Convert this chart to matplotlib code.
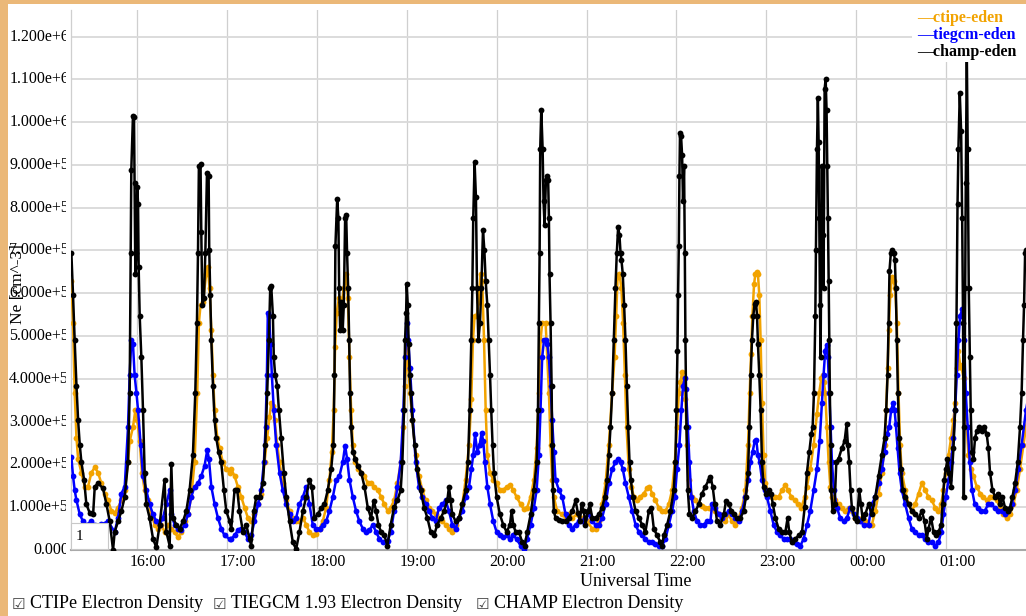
import numpy as np
import matplotlib
matplotlib.use("Agg")
import matplotlib.pyplot as plt
from matplotlib.patches import Rectangle
from matplotlib.transforms import (Bbox, TransformedBbox,
                                   blended_transform_factory, ScaledTranslation)

# electron density along the CHAMP track, (minutes after 15:00 UT, Ne / 1e5 cm^-3)
champ = [
    (16.2, 6.94), (17.3, 5.96), (18.4, 4.90), (19.6, 3.84), (20.7, 3.03), (21.8, 2.46), (22.9, 2.05),
    (24.7, 1.64), (26.2, 1.07), (28.4, 0.87), (30.7, 0.83), (31.8, 1.48), (34.0, 1.56), (37.3, 1.44),
    (39.6, 1.07), (41.8, 0.67), (44.0, 0.00), (45.1, 0.42), (47.3, 0.67), (49.6, 0.91), (51.8, 1.24),
    (54.0, 2.05), (55.1, 3.68), (55.8, 6.94), (56.2, 8.89), (57.3, 10.15), (58.0, 10.11), (58.4, 8.57),
    (58.9, 6.45), (59.6, 6.94), (60.2, 8.49), (60.7, 8.08), (61.1, 6.61), (61.8, 5.47), (62.9, 4.50),
    (64.0, 3.27), (65.1, 1.81), (66.2, 1.07), (68.4, 0.75), (70.7, 0.26), (72.9, 0.06), (75.1, 0.59),
    (78.4, 1.64), (79.6, 0.42), (81.8, 0.10), (82.9, 2.01), (84.0, 0.75), (86.2, 0.59), (88.4, 0.50),
    (90.7, 0.67), (92.9, 0.91), (95.1, 1.40), (97.3, 2.21), (98.9, 3.68), (100.0, 5.31), (100.7, 6.94),
    (101.3, 8.97), (102.4, 9.01), (102.9, 7.43), (103.6, 5.72), (104.7, 5.88), (105.6, 6.94), (106.7, 8.81),
    (107.8, 8.73), (108.2, 7.02), (108.9, 5.96), (109.6, 4.90), (110.7, 3.84), (111.8, 3.03), (112.9, 2.62),
    (114.4, 2.30), (116.2, 2.05), (118.0, 1.40), (119.6, 0.91), (121.8, 0.67),
    (122.9, 0.50), (125.1, 1.40), (126.9, 1.40), (128.4, 0.91), (130.7, 0.42), (132.9, 0.59), (135.1, 0.26),
    (136.2, 0.10), (138.0, 0.91), (139.6, 1.24), (141.8, 1.24), (144.0, 1.56), (145.6, 2.46), (146.9, 3.68),
    (148.0, 4.90), (148.9, 6.12), (149.6, 6.16), (150.7, 5.47), (151.3, 4.50), (152.2, 4.09), (153.6, 3.84),
    (154.7, 3.27), (156.2, 2.62), (158.0, 1.81), (159.6, 1.24), (161.8, 0.67), (164.0, 0.18), (166.2, 0.02),
    (168.4, 0.42), (170.7, 0.91), (172.9, 1.24), (175.1, 1.64), (176.7, 1.48), (178.4, 0.75), (180.7, 0.83),
    (182.9, 0.99), (185.1, 1.07), (187.3, 1.40), (189.6, 1.89), (191.1, 2.46), (191.8, 4.09), (192.4, 7.10),
    (193.6, 8.20), (194.4, 7.75), (194.9, 6.12), (195.6, 5.15), (196.4, 5.80), (197.3, 5.15), (198.0, 5.72),
    (198.9, 7.75), (199.6, 7.83), (200.2, 6.94), (200.9, 6.12), (201.6, 4.90), (202.2, 3.68), (202.9, 2.87),
    (204.0, 2.30), (205.6, 2.13), (207.3, 1.97), (209.6, 1.81), (211.8, 1.48), (214.0, 0.99), (216.2, 0.75),
    (218.0, 1.15), (219.6, 0.91), (221.1, 0.59), (222.9, 0.42), (225.1, 0.34),
    (227.1, 0.10), (229.3, 0.59), (231.6, 1.00), (233.8, 1.16), (236.0, 1.40), (237.1, 2.05), (238.2, 3.27),
    (238.9, 4.90), (239.6, 5.55), (240.0, 6.21), (240.7, 5.72), (241.3, 4.82), (242.0, 4.09), (242.7, 3.68),
    (243.8, 3.03), (245.3, 2.46), (247.1, 1.89), (249.3, 1.40), (251.6, 0.99), (253.8, 0.75), (256.0, 0.42),
    (258.2, 0.34), (260.4, 0.59), (262.7, 0.75), (264.9, 0.91), (267.1, 1.16), (268.2, 1.48), (269.3, 1.16),
    (270.4, 0.83), (272.7, 0.67), (274.9, 0.75), (277.1, 1.07), (279.3, 1.40), (280.9, 2.05), (282.0, 3.27),
    (283.1, 4.90), (283.8, 6.12), (284.4, 7.75), (285.3, 9.06), (286.2, 8.24), (286.9, 6.12), (287.8, 4.90),
    (288.9, 5.31), (289.8, 6.12), (290.9, 7.47), (291.8, 7.02), (292.7, 6.29), (293.8, 5.72), (294.7, 4.90),
    (295.6, 4.09), (296.4, 3.27), (297.3, 2.46), (298.2, 1.81), (300.0, 1.24), (302.2, 0.83), (304.4, 0.59),
    (306.7, 0.42), (308.9, 0.59), (310.0, 0.91), (311.1, 0.59), (312.7, 0.42), (314.9, 0.42), (317.1, 0.18),
    (318.7, 0.10), (320.4, 0.42), (322.7, 0.83), (324.9, 1.40), (326.7, 2.05), (327.6, 3.27), (328.2, 5.31),
    (328.7, 6.94), (329.1, 9.38), (329.8, 10.28), (330.7, 9.38), (331.3, 8.16), (332.0, 7.59), (332.9, 8.65),
    (333.8, 8.73), (334.4, 8.65), (334.9, 7.75), (335.3, 6.45), (336.0, 5.31), (336.7, 3.84), (337.1, 2.46),
    (337.6, 1.40), (338.2, 0.91), (339.3, 0.75),
    (341.6, 0.71), (343.8, 0.67), (346.0, 0.67), (348.2, 0.75), (350.4, 0.91), (352.7, 1.16), (354.2, 0.87),
    (355.6, 0.67), (356.7, 1.07), (358.2, 0.91), (359.3, 0.59), (360.9, 0.91), (362.2, 1.07), (363.8, 0.75),
    (366.0, 0.75), (368.2, 0.83), (370.4, 0.99), (372.2, 1.24), (373.8, 1.64), (374.9, 2.21), (376.0, 2.87),
    (377.1, 3.68), (378.2, 4.90), (379.3, 6.12), (380.2, 6.94), (381.1, 7.55), (382.0, 7.35), (382.7, 6.94),
    (383.3, 6.78), (384.2, 6.45), (385.1, 5.72), (386.0, 4.90), (386.9, 3.84), (387.8, 2.87), (388.7, 2.05),
    (389.6, 1.64), (390.9, 1.24), (392.7, 0.91), (394.9, 0.75), (397.1, 0.59), (399.3, 0.42), (401.6, 0.91),
    (403.3, 0.99), (404.9, 0.50), (407.1, 0.34), (409.3, 0.18), (410.4, 0.10), (411.6, 0.34), (413.8, 0.59),
    (416.0, 0.91), (418.2, 1.40), (419.3, 2.05), (420.0, 3.27), (420.7, 4.66), (421.1, 5.96), (421.6, 7.10),
    (422.0, 8.73), (422.4, 9.75), (423.1, 9.67), (423.8, 9.22), (424.4, 8.16), (425.1, 8.97), (425.6, 6.94),
    (426.0, 4.90), (426.7, 2.87), (427.6, 1.40), (428.7, 0.83), (430.4, 0.75), (432.7, 0.91), (434.9, 1.07),
    (437.1, 1.32), (439.3, 1.48), (441.6, 1.64),
    (442.7, 1.71), (444.2, 1.48), (445.6, 1.07), (447.1, 0.67), (449.3, 0.59), (451.6, 0.83), (453.1, 1.15),
    (454.9, 1.07), (456.7, 0.91), (458.2, 0.83), (460.4, 0.75), (462.7, 0.75), (464.9, 0.91), (466.4, 1.24),
    (467.8, 1.81), (468.7, 2.87), (469.6, 4.09), (470.4, 4.90), (471.3, 5.47), (472.2, 5.76), (473.1, 5.80),
    (473.8, 5.47), (474.4, 4.82), (475.3, 4.09), (476.2, 3.27), (477.1, 2.05), (478.2, 1.48), (479.8, 1.32),
    (481.6, 1.40), (483.1, 1.32), (484.4, 1.07), (486.0, 0.75), (488.2, 0.50), (490.4, 0.42), (492.7, 0.42),
    (494.2, 0.75), (495.3, 0.42), (497.1, 0.18), (499.3, 0.26), (501.6, 0.34), (503.8, 0.42), (505.6, 1.00),
    (507.1, 1.81), (508.7, 2.30), (510.0, 2.70), (510.9, 2.87), (511.8, 3.68), (512.7, 5.47), (513.1, 7.02),
    (513.8, 9.38), (514.4, 10.56), (514.9, 9.54), (515.3, 7.75), (515.8, 5.72), (516.2, 4.50), (516.7, 6.94),
    (517.1, 8.97), (517.6, 7.35), (518.2, 6.12), (518.9, 10.77), (519.6, 11.01), (520.2, 10.28), (520.7, 8.97),
    (521.1, 7.75), (521.6, 6.29), (522.0, 4.90), (522.4, 3.68), (522.9, 2.46), (523.3, 1.40), (524.2, 0.91),
    (525.6, 1.07), (526.7, 2.05), (528.2, 2.13), (530.4, 2.38), (532.2, 2.54), (533.6, 2.95), (534.4, 2.46),
    (535.3, 2.05), (536.2, 1.40), (537.1, 0.99), (538.9, 0.75), (540.4, 0.67), (542.0, 1.40), (543.1, 1.07),
    (544.2, 0.75), (546.0, 0.83),
    (548.2, 1.07), (550.4, 0.83), (552.7, 1.24), (554.9, 1.73), (557.1, 2.21), (558.9, 2.62), (560.0, 3.27),
    (560.9, 4.09), (561.6, 5.31), (562.2, 6.53), (563.1, 6.94), (564.2, 7.02), (565.1, 6.94), (565.8, 6.78),
    (566.4, 6.12), (567.1, 4.90), (567.8, 3.68), (568.7, 2.62), (569.8, 1.89), (571.1, 1.40), (572.7, 1.24),
    (574.9, 1.07), (577.1, 0.91), (579.3, 0.83), (581.6, 0.75), (583.8, 0.91), (585.6, 0.67), (587.1, 0.26),
    (588.2, 0.50), (590.0, 0.75), (591.6, 0.42), (593.1, 0.34), (594.9, 0.42), (596.7, 0.59), (597.6, 1.07),
    (598.7, 1.64), (599.8, 1.89), (600.9, 2.13), (602.0, 1.81), (603.3, 1.48), (604.9, 2.38), (606.0, 3.27),
    (606.9, 5.31), (607.6, 8.08), (608.2, 9.38), (609.1, 10.68), (610.0, 9.79), (610.7, 7.75), (611.3, 5.31),
    (611.8, 1.24), (612.2, 2.87), (612.7, 6.12), (613.1, 8.57), (613.8, 11.60), (614.4, 9.38), (615.1, 6.12),
    (615.8, 4.50), (616.4, 3.27), (617.1, 2.30), (618.2, 2.13), (619.3, 2.62), (620.4, 2.78), (622.0, 2.87),
    (623.8, 2.79), (625.6, 2.87), (627.1, 2.70), (628.2, 2.38), (629.3, 1.81), (630.9, 1.40), (632.7, 1.24),
    (634.4, 1.32), (636.0, 1.07), (637.6, 1.24), (639.3, 0.99), (641.1, 0.91), (642.7, 0.99), (644.2, 1.24),
    (646.0, 1.56), (647.8, 2.05), (649.3, 2.87), (650.4, 3.68), (651.3, 4.90), (652.0, 5.72), (652.7, 6.94),
    (653.3, 7.02), (655.0, 7.10),
]

# CTIPe model along the same track
ctipe = [
    (16.2, 6.29), (17.3, 5.31), (18.4, 3.68), (19.6, 2.62), (20.7, 2.13), (22.9, 1.81), (25.1, 1.48),
    (27.3, 1.48), (29.6, 1.81), (31.8, 1.93), (34.0, 1.81), (36.2, 1.56), (38.4, 1.32), (40.7, 1.16),
    (42.9, 0.91), (45.1, 0.87), (47.3, 0.99), (49.6, 1.16), (51.8, 1.40), (54.0, 2.05), (55.1, 2.54),
    (57.3, 2.87), (58.9, 3.27), (60.2, 3.03), (61.8, 2.54), (63.3, 1.81), (65.1, 1.40), (67.3, 1.16),
    (69.6, 0.83), (71.8, 0.59), (74.0, 0.50), (76.2, 0.59), (78.4, 0.42), (80.7, 0.59), (82.9, 0.50),
    (85.1, 0.42), (87.3, 0.30), (89.6, 0.42), (91.8, 0.67), (94.0, 0.83), (96.2, 1.24), (98.4, 2.05),
    (100.2, 3.68), (101.3, 5.31), (102.4, 5.72), (104.0, 5.80), (106.2, 6.45), (107.3, 6.61), (108.4, 6.12),
    (109.6, 5.15), (110.7, 4.09), (111.8, 3.27), (113.6, 2.62), (115.1, 2.38), (117.3, 2.05), (119.6, 1.89),
    (121.8, 1.81),
    (122.9, 1.89), (125.1, 1.73), (127.3, 1.48), (129.6, 1.24), (131.8, 0.99), (134.0, 0.75), (136.2, 0.67),
    (138.4, 0.83), (140.7, 1.07), (142.9, 1.32), (145.1, 2.05), (146.9, 2.62), (148.4, 3.11), (149.6, 3.44),
    (150.7, 3.36), (151.8, 3.03), (153.6, 2.46), (155.1, 2.05), (157.3, 1.56), (159.6, 1.16), (161.8, 0.91),
    (164.0, 0.75), (166.2, 0.67), (168.4, 0.67), (170.7, 0.75), (172.9, 0.59), (175.1, 0.42), (177.3, 0.34),
    (179.6, 0.38), (181.8, 0.50), (184.0, 0.67), (186.2, 0.99), (188.4, 1.64), (190.0, 2.30), (191.3, 3.27),
    (192.2, 4.74), (193.3, 5.55), (194.7, 5.88), (196.2, 5.64), (198.0, 6.12), (199.6, 6.45), (200.7, 5.88),
    (201.8, 4.50), (202.9, 3.27), (204.0, 2.46), (205.6, 2.05), (207.3, 1.89), (209.6, 1.81), (211.8, 1.73),
    (214.0, 1.56), (216.2, 1.56), (218.4, 1.48), (220.7, 1.40), (222.9, 1.24), (225.1, 1.07), (227.3, 0.91),
    (229.3, 0.99), (231.6, 1.16), (233.8, 1.56), (236.0, 2.05), (237.8, 2.87), (238.9, 3.84), (240.0, 4.74),
    (241.1, 4.25), (242.2, 3.68), (243.8, 3.03), (246.0, 2.21), (248.2, 1.73), (250.4, 1.40), (252.7, 1.16),
    (254.9, 0.99), (257.1, 0.91), (259.3, 0.83), (261.6, 0.75), (263.8, 0.67), (266.0, 0.59), (268.2, 0.50),
    (270.4, 0.42), (272.7, 0.59), (274.9, 0.75), (277.1, 1.07), (279.3, 1.64), (281.6, 2.46), (283.1, 3.52),
    (284.2, 4.90), (285.3, 5.47), (286.7, 5.47), (288.0, 5.80), (289.3, 6.45), (290.4, 6.29), (291.6, 4.90),
    (292.7, 3.27), (293.8, 2.21), (295.6, 1.81), (297.8, 1.64), (300.0, 1.56), (302.2, 1.40), (304.4, 1.40),
    (306.7, 1.48), (308.9, 1.52), (311.1, 1.40), (313.3, 1.24), (316.0, 1.07), (318.2, 0.95), (320.4, 0.99),
    (322.7, 1.24), (324.9, 1.64), (326.7, 2.38), (328.2, 3.68), (329.3, 4.90), (330.4, 5.31), (332.7, 5.31),
    (334.9, 3.68), (336.0, 2.46), (337.1, 1.64), (338.2, 1.24), (340.4, 0.91), (343.8, 0.83), (346.0, 0.75),
    (348.2, 0.83), (350.4, 0.75), (353.8, 0.83), (357.1, 0.75), (360.4, 0.67), (363.8, 0.50), (366.0, 0.50),
    (368.2, 0.67), (370.4, 1.07), (372.7, 1.56), (374.9, 2.46), (377.1, 3.68), (378.7, 4.50), (379.8, 5.47),
    (380.7, 6.37), (382.0, 6.45), (383.3, 6.12), (384.4, 5.31), (385.6, 4.09), (386.7, 2.87), (388.2, 1.89),
    (390.0, 1.48), (391.6, 1.24), (393.8, 1.16), (396.0, 1.24), (398.2, 1.32), (400.4, 1.44), (402.0, 1.48),
    (403.8, 1.32), (406.0, 1.16), (408.2, 0.99), (410.4, 0.91), (412.7, 0.91), (414.9, 1.07), (417.1, 1.40),
    (418.9, 2.05), (420.4, 2.87), (421.6, 3.68), (422.7, 3.93), (423.8, 4.17), (424.9, 4.01), (426.0, 3.52),
    (427.1, 2.46), (428.2, 1.64), (430.4, 1.24), (432.7, 1.16), (434.9, 1.07), (437.1, 1.03), (439.3, 0.99),
    (441.6, 0.99), (443.8, 0.99), (446.0, 0.91), (448.2, 0.83), (450.4, 0.75), (452.7, 0.67), (454.9, 0.83),
    (457.1, 0.67), (459.3, 0.59), (461.6, 0.75), (463.8, 0.99), (466.0, 1.40), (467.8, 2.46), (468.9, 3.68),
    (469.8, 4.58), (470.7, 5.47), (471.8, 6.21), (472.7, 6.45), (473.6, 6.49), (474.4, 6.45), (475.3, 5.96),
    (476.2, 4.90), (477.1, 3.44), (478.2, 2.21), (479.3, 1.56), (481.6, 1.32), (483.8, 1.24), (486.0, 1.24),
    (488.2, 1.24), (490.4, 1.40), (492.7, 1.52), (494.4, 1.40), (496.7, 1.24), (498.9, 1.16), (501.1, 1.07),
    (503.3, 0.99), (505.6, 1.24), (507.1, 1.48), (509.3, 1.89), (511.6, 2.46), (513.8, 3.19), (515.3, 3.68),
    (516.7, 4.01), (517.6, 4.09), (518.4, 3.93), (519.3, 3.68), (520.4, 2.87), (521.6, 2.05), (522.7, 1.48),
    (523.8, 1.24), (526.0, 1.16), (528.2, 1.07), (530.4, 0.99), (532.7, 0.91), (534.9, 0.99), (537.1, 0.91),
    (539.3, 0.75), (541.6, 0.71), (543.8, 0.75), (546.0, 0.67), (548.2, 0.59), (550.4, 0.59), (552.7, 0.91),
    (554.9, 1.32), (557.1, 1.81), (558.9, 2.46), (560.0, 3.27), (560.9, 4.25), (561.8, 5.15), (562.7, 5.96),
    (563.8, 6.37), (564.9, 6.29), (566.0, 6.12), (567.1, 5.31), (568.2, 3.68), (569.3, 2.46), (570.4, 1.81),
    (572.7, 1.40), (574.9, 1.07), (577.1, 0.91), (579.3, 1.07), (581.6, 1.32), (583.8, 1.56), (586.0, 1.40),
    (588.2, 1.24), (590.4, 1.16), (592.7, 0.99), (594.9, 0.91), (596.7, 1.07), (598.2, 1.40), (599.8, 1.81),
    (601.6, 2.21), (603.3, 2.62), (604.9, 3.03), (606.0, 3.44), (607.1, 4.25), (608.2, 4.66), (609.3, 4.33),
    (610.4, 4.25), (611.6, 4.01), (612.7, 3.68), (613.8, 2.87), (614.9, 2.21), (616.7, 1.89), (618.2, 1.73),
    (620.4, 1.48), (622.7, 1.32), (624.9, 1.24), (627.1, 1.16), (629.3, 1.24), (631.6, 1.24), (633.8, 1.16),
    (636.0, 0.99), (638.2, 0.83), (640.4, 0.75), (642.7, 0.83), (644.9, 1.07), (647.1, 1.40), (649.3, 1.89),
    (651.6, 2.46), (653.3, 2.87), (655.0, 3.20),
]

# TIEGCM 1.93 model along the same track
tiegcm = [
    (16.2, 2.17), (17.3, 1.73), (18.4, 1.40), (19.6, 1.16), (21.8, 0.83), (24.0, 0.67), (26.2, 0.59),
    (29.6, 0.67), (31.8, 0.59), (36.2, 0.60), (40.7, 0.67), (45.1, 0.42), (47.3, 0.75), (49.6, 1.32),
    (51.8, 1.48), (54.0, 2.87), (55.1, 4.09), (56.2, 4.90), (57.3, 4.82), (58.4, 4.09), (59.6, 3.68),
    (60.7, 3.27), (62.4, 2.46), (64.0, 1.73), (66.2, 1.40), (68.4, 1.07), (70.7, 0.83), (72.9, 0.67),
    (75.1, 0.59), (77.3, 0.75), (79.6, 1.07), (81.8, 1.40), (82.9, 0.83), (85.1, 0.59), (87.3, 0.50),
    (89.6, 0.46), (91.8, 0.59), (94.0, 0.83), (96.2, 1.24), (98.4, 1.48), (100.7, 1.56), (102.9, 1.73),
    (105.1, 1.97), (106.9, 2.34), (108.0, 2.13), (109.6, 1.48), (111.8, 1.07), (114.0, 0.75), (116.2, 0.50),
    (118.4, 0.34), (121.8, 0.26),
    (122.9, 0.26), (125.1, 0.34), (127.3, 0.46), (129.6, 0.50), (131.8, 0.42), (134.0, 0.26), (136.2, 0.34),
    (138.4, 0.67), (140.7, 1.07), (142.9, 1.40), (144.7, 2.05), (145.8, 2.87), (146.7, 4.09), (147.3, 5.55),
    (148.2, 5.47), (149.1, 4.82), (150.0, 4.09), (151.3, 3.27), (152.9, 2.46), (155.1, 1.81), (157.3, 1.40),
    (159.6, 1.07), (161.8, 0.83), (164.0, 0.67), (166.2, 0.75), (168.4, 1.07), (170.7, 1.24), (172.9, 1.48),
    (175.1, 1.07), (177.3, 0.59), (179.6, 0.50), (181.8, 0.50), (184.0, 0.59), (186.2, 0.67), (188.4, 0.91),
    (190.7, 1.24), (192.9, 1.64), (195.1, 1.73), (197.3, 2.05), (198.9, 2.44), (200.2, 2.13), (201.8, 1.64),
    (204.0, 1.24), (206.2, 0.91), (208.4, 0.67), (210.7, 0.50), (212.9, 0.42), (215.1, 0.46), (217.3, 0.59),
    (219.6, 0.42), (221.8, 0.26), (224.0, 0.18), (227.3, 0.22),
    (229.3, 0.42), (231.6, 0.91), (233.8, 1.48), (236.0, 2.05), (237.8, 3.27), (238.9, 4.50), (240.0, 5.31),
    (241.1, 4.90), (242.2, 4.25), (243.8, 3.27), (246.0, 2.05), (248.2, 1.48), (250.4, 1.24), (252.7, 1.07),
    (254.9, 0.91), (257.1, 0.75), (259.3, 0.67), (261.6, 0.99), (263.8, 1.07), (266.0, 1.16), (268.2, 0.91),
    (270.4, 0.59), (272.7, 0.50), (274.9, 0.75), (277.1, 0.91), (279.3, 1.24), (281.6, 1.48), (283.1, 1.89),
    (284.4, 2.21), (285.6, 2.70), (287.1, 2.30), (288.7, 2.46), (290.0, 2.74), (291.1, 2.54), (292.2, 2.05),
    (293.8, 1.48), (295.6, 1.07), (297.8, 0.67), (300.0, 0.42), (302.2, 0.34), (304.4, 0.30), (306.7, 0.34),
    (308.9, 0.26), (311.1, 0.34), (313.3, 0.26), (316.0, 0.10), (318.2, 0.02), (320.4, 0.26), (322.7, 0.59),
    (324.9, 0.99), (326.7, 1.40), (328.2, 2.21), (329.3, 3.27), (330.4, 4.50), (331.6, 4.90), (332.7, 4.90),
    (333.8, 4.82), (334.9, 4.50), (336.0, 3.84), (337.1, 3.03), (338.2, 2.30), (339.3, 1.64), (341.6, 1.40),
    (343.8, 1.24), (346.0, 0.83), (348.2, 0.59), (350.4, 0.50), (352.7, 0.59), (354.9, 0.67), (357.1, 0.67),
    (359.3, 0.75), (361.6, 0.83), (363.8, 0.67), (366.0, 0.59), (368.2, 0.59), (370.4, 0.75), (372.7, 1.07),
    (374.9, 1.56), (377.1, 1.89), (379.3, 2.05), (381.1, 2.13), (382.7, 2.05), (384.2, 1.89), (386.0, 1.56),
    (388.2, 1.24), (390.4, 0.91), (392.7, 0.59), (394.9, 0.42), (397.1, 0.34), (399.3, 0.26), (401.6, 0.18),
    (403.8, 0.18), (406.0, 0.14), (408.2, 0.10), (410.4, 0.10), (412.7, 0.26), (414.9, 0.59), (417.1, 0.91),
    (418.9, 1.24), (420.4, 1.89), (422.0, 2.46), (423.3, 3.27), (424.4, 3.84), (425.6, 4.01), (426.4, 3.76),
    (427.6, 2.87), (428.7, 2.05), (430.0, 1.24), (431.6, 0.91), (433.8, 0.67), (436.0, 0.59), (438.2, 0.59),
    (440.4, 0.67), (442.7, 0.67), (443.8, 1.07), (446.0, 0.99), (448.2, 0.83), (450.4, 0.75), (452.7, 0.83),
    (454.9, 0.91), (457.1, 0.83), (459.3, 0.75), (461.6, 0.67), (463.8, 0.91), (466.0, 1.24), (467.8, 1.64),
    (469.3, 2.05), (470.9, 2.30), (472.2, 2.54), (473.3, 2.58), (474.4, 2.21), (475.6, 2.05), (477.1, 1.64),
    (478.9, 1.40), (480.4, 1.24), (482.7, 0.91), (484.9, 0.59), (487.1, 0.42), (489.3, 0.34), (491.6, 0.26),
    (493.8, 0.26), (496.0, 0.26), (498.2, 0.18), (500.4, 0.14), (502.7, 0.10), (504.9, 0.26), (507.1, 0.59),
    (509.3, 0.91), (511.6, 1.40), (513.8, 1.89), (515.6, 2.54), (517.1, 3.44), (518.2, 4.09), (519.3, 4.66),
    (520.2, 4.78), (521.1, 4.50), (522.0, 3.68), (522.9, 2.87), (523.8, 2.05), (525.1, 1.40), (527.1, 0.99),
    (529.3, 0.75), (531.6, 0.67), (533.8, 0.75), (536.0, 0.99), (538.2, 0.83), (540.4, 0.75), (542.7, 0.67),
    (544.9, 0.59), (548.2, 0.59), (550.4, 1.07), (552.7, 1.24), (554.9, 1.56), (557.1, 1.89), (558.9, 2.30),
    (560.4, 2.70), (562.0, 2.87), (563.3, 3.27), (564.7, 3.44), (565.6, 3.27), (566.4, 2.95), (567.6, 2.38),
    (568.9, 1.81), (570.4, 1.40), (572.7, 1.07), (574.9, 0.75), (577.1, 0.50), (579.3, 0.42), (581.6, 0.34),
    (583.8, 0.34), (586.0, 0.26), (588.2, 0.18), (590.4, 0.18), (592.7, 0.10), (594.9, 0.18), (596.7, 0.42),
    (598.2, 0.83), (599.8, 1.24), (601.6, 1.64), (603.3, 2.05), (604.9, 2.62), (606.0, 3.27), (607.1, 4.09),
    (608.2, 4.90), (609.3, 5.47), (610.9, 5.64), (612.0, 4.90), (613.1, 3.68), (614.4, 2.87), (615.8, 2.05),
    (617.3, 1.40), (619.1, 1.07), (621.3, 0.99), (623.6, 0.91), (625.8, 0.91), (628.0, 1.07), (630.2, 1.07),
    (632.4, 0.99), (634.9, 0.91), (637.1, 0.91), (639.3, 0.83), (641.6, 0.91), (643.8, 1.07), (646.0, 1.40),
    (648.2, 1.89), (650.4, 2.46), (653.3, 3.27), (655.0, 3.60),
]

time_ticks = [60, 120, 180, 240, 300, 360, 420, 480, 540, 600]
time_labels = ["16:00", "17:00", "18:00", "19:00", "20:00",
               "21:00", "22:00", "23:00", "00:00", "01:00"]
ne_ticks = [i * 1e5 for i in range(13)]
series_names = ["ctipe-eden", "tiegcm-eden", "champ-eden"]
checkbox_labels = ["CTIPe Electron Density", "TIEGCM 1.93 Electron Density",
                   "CHAMP Electron Density"]
colors = ["#f2a300", "#0000ff", "#000000"]

W, H = 1026, 616
serif = "Liberation Serif"

def fx(x):
    return x / W

def fy(y):
    return 1 - y / H

def sci(v):
    if v == 0:
        return "0.000"
    e = int(np.floor(np.log10(v)))
    return "%.3fe+%d" % (v / 10 ** e, e)

fig = plt.figure(figsize=(W / 100, H / 100), dpi=100)
ax = fig.add_axes([fx(71), fy(550), 1 - fx(71), (550 - 10) / H])

for pts, col in zip([ctipe, tiegcm, champ], colors):
    t, ne = np.array(pts).T
    ax.plot(t, ne * 1e5, "-o", color=col, lw=1.8, ms=4.2, mew=0, zorder=3)

ax.set_xlim(15.95, 653.3)
ax.set_ylim(0, 12.62e5)
ax.set_xticks(time_ticks, time_labels, fontfamily=serif, fontsize=11.5)
ax.set_yticks(ne_ticks)
ax.tick_params(length=0, labelleft=False, pad=3)
shift = ScaledTranslation(11 / 100, 0, fig.dpi_scale_trans)
for lab in ax.get_xticklabels():
    lab.set_transform(lab.get_transform() + shift)

ax.set_axisbelow(True)
ax.grid(True, axis="x", color="#cfcfcf", lw=0.9)
ax.grid(True, axis="y", color="#d9d9d9", lw=1.3)
for s in ["top", "right"]:
    ax.spines[s].set_visible(False)
ax.spines["left"].set_color("#cfcfcf")
ax.spines["left"].set_linewidth(0.9)
ax.spines["bottom"].set_color("#a8a8a8")
ax.spines["bottom"].set_linewidth(1.5)

# y labels sit left of the plot and get cut off at its edge
ytrans = blended_transform_factory(fig.transFigure, ax.transData)
clip = TransformedBbox(Bbox([[0, 0], [fx(65.5), 1]]), fig.transFigure)
for v in ne_ticks:
    t = fig.text(fx(69), v, sci(v), transform=ytrans, ha="right", va="center",
                 fontfamily=serif, fontsize=11.5)
    t.set_clip_box(clip)
    t.set_clip_on(True)

fig.text(fx(18), fy(284), "Ne [cm^-3]", rotation=90, ha="center", va="center",
         fontfamily=serif, fontsize=12.5)
fig.text(fx(636), fy(582), "Universal Time", ha="center", va="center",
         fontfamily=serif, fontsize=13)

# legend block, top right
fig.add_artist(Rectangle((fx(912), fy(62)), fx(1026 - 912), (62 - 4) / H,
                         transform=fig.transFigure, facecolor="white",
                         edgecolor="none", zorder=5))
for i, (name, col) in enumerate(zip(series_names, colors)):
    fig.text(fx(917), fy(18 + 17 * i), "\u2014" + name, color=col, ha="left",
             va="center", fontfamily=serif, fontweight="bold", fontsize=11.5,
             zorder=6)

# small page-number box at lower left
fig.add_artist(Rectangle((fx(71), fy(549)), fx(108 - 71), (549 - 523) / H,
                         transform=fig.transFigure, facecolor="white",
                         edgecolor="#c8c8c8", lw=0.8, zorder=5))
fig.text(fx(76), fy(536), "1", ha="left", va="center", fontfamily=serif,
         fontsize=11, zorder=6)

# checkbox row
for xb, xt, lab in zip([12, 213, 476], [30, 231, 494], checkbox_labels):
    fig.text(fx(xb), fy(604), "\u2611", ha="left", va="center",
             fontfamily="DejaVu Sans", fontsize=11, color="#444444")
    fig.text(fx(xt), fy(604), lab, ha="left", va="center", fontfamily=serif,
             fontsize=13)

# page frame
frame = "#ebb878"
fig.add_artist(Rectangle((0, 0), fx(8), 1, transform=fig.transFigure,
                         facecolor=frame, edgecolor="none", zorder=10))
fig.add_artist(Rectangle((0, fy(3.5)), 1, 3.5 / H, transform=fig.transFigure,
                         facecolor=frame, edgecolor="none", zorder=10))

fig.savefig("out.png", dpi=100)
